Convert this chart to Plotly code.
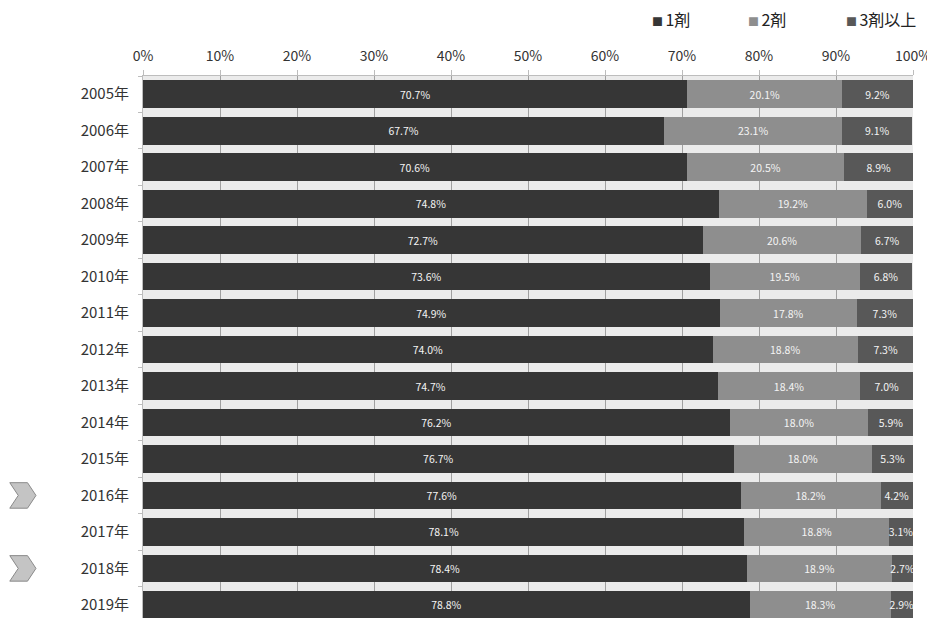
import plotly.graph_objects as go

years = ["2005年", "2006年", "2007年", "2008年", "2009年", "2010年", "2011年", "2012年",
         "2013年", "2014年", "2015年", "2016年", "2017年", "2018年", "2019年"]
one = [70.7, 67.7, 70.6, 74.8, 72.7, 73.6, 74.9, 74.0, 74.7, 76.2, 76.7, 77.6, 78.1, 78.4, 78.8]
two = [20.1, 23.1, 20.5, 19.2, 20.6, 19.5, 17.8, 18.8, 18.4, 18.0, 18.0, 18.2, 18.8, 18.9, 18.3]
three = [9.2, 9.1, 8.9, 6.0, 6.7, 6.8, 7.3, 7.3, 7.0, 5.9, 5.3, 4.2, 3.1, 2.7, 2.9]
series_names = ["1剤", "2剤", "3剤以上"]
colors = ["#363636", "#8e8e8e", "#585858"]
ticks = [0, 10, 20, 30, 40, 50, 60, 70, 80, 90, 100]
tick_labels = [f"{t}%" for t in ticks]
marked_years = ["2016年", "2018年"]

font = "Noto Sans CJK JP"
fig = go.Figure()
for name, vals, col in zip(series_names, [one, two, three], colors):
    fig.add_trace(go.Bar(
        y=years, x=vals, name=name, orientation="h",
        marker=dict(color=col, line=dict(width=0)),
        text=[f"{v:.1f}%" for v in vals],
        textposition="inside", insidetextanchor="middle",
        constraintext="none", textangle=0,
        textfont=dict(color="#f4f4f4", size=10.5, family=font),
        cliponaxis=True, showlegend=False,
    ))

# the page body adds an 8px offset, so sizes/margins are reduced by 8px
fig.update_layout(
    barmode="stack",
    bargap=0.24,
    width=927, height=610,
    margin=dict(l=135, r=22, t=68, b=0, autoexpand=False),
    paper_bgcolor="white", plot_bgcolor="#ebebeb",
    font=dict(family=font, color="#333"),
    showlegend=False,
    xaxis=dict(side="top", range=[0, 100], tickvals=ticks, ticktext=tick_labels,
               showgrid=True, gridcolor="#a0a0a0", gridwidth=1,
               showline=True, linecolor="#bdbdbd", linewidth=1,
               ticks="outside", ticklen=5, tickcolor="#bdbdbd",
               tickfont=dict(size=14, color="#333"), zeroline=False,
               ticklabelstandoff=3, automargin=False),
    yaxis=dict(type="category", range=[14.36, -0.5],
               showline=True, linecolor="#bdbdbd", linewidth=1,
               ticks="outside", ticklen=4, tickcolor="#bdbdbd", tickson="boundaries",
               tickfont=dict(size=15, color="#333"), ticklabelstandoff=10,
               automargin=False),
)

# legend drawn as annotations in the top-right corner
legend_x = [0.658, 0.783, 0.911]
for name, col, lx in zip(series_names, colors, legend_x):
    fig.add_annotation(xref="paper", yref="paper", x=lx, y=1.106, xanchor="left", yanchor="middle",
                       text=f"<span style='color:{col};font-size:11px'>■ </span>{name}",
                       showarrow=False, font=dict(size=16, color="#222", family=font))

# chevron markers beside highlighted years
for yr in marked_years:
    idx = years.index(yr)
    fig.add_shape(type="path", xref="paper", yref="y",
                  path=(f"M -0.173 {idx-0.35} L -0.150 {idx-0.35} L -0.139 {idx} "
                        f"L -0.150 {idx+0.35} L -0.173 {idx+0.35} L -0.162 {idx} Z"),
                  fillcolor="#c4c4c4", line=dict(color="#8a8a8a", width=1), layer="above")

fig.write_html("out.html")
